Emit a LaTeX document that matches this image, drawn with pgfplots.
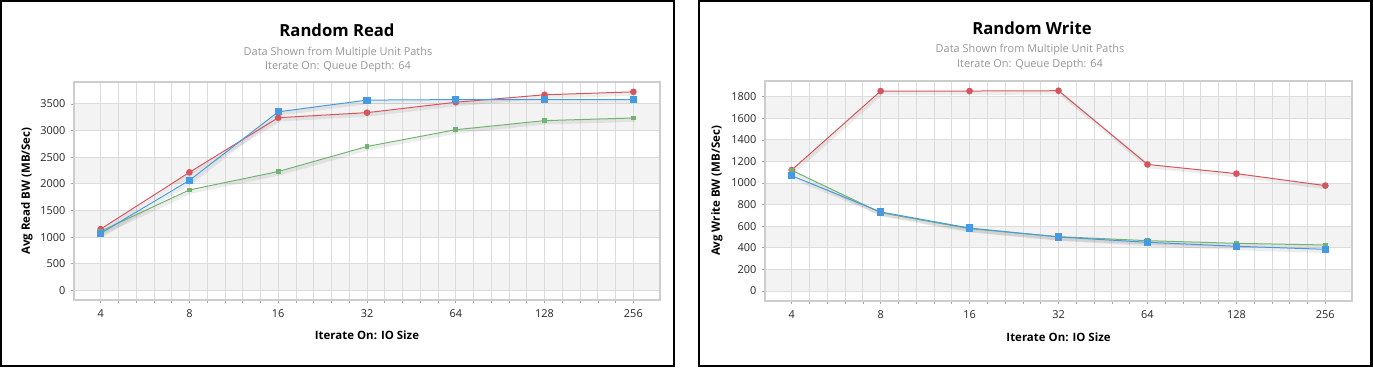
\documentclass[border=0pt]{standalone}
\usepackage{fontspec}
\setmainfont{Open Sans}
\usepackage{pgfplots}
\pgfplotsset{compat=1.18}
\definecolor{cred}{RGB}{214,84,94}
\definecolor{cblue}{RGB}{72,154,224}
\definecolor{cgreen}{RGB}{112,180,112}
\definecolor{cgrid}{RGB}{220,220,220}
\definecolor{cband}{RGB}{243,243,243}
\definecolor{csub}{RGB}{150,150,150}
\definecolor{cframe}{RGB}{205,205,205}
\pgfplotsset{
  panel/.style={
    scale only axis,
    xmin=1.7, xmax=8.3,
    xtick={2,3,4,5,6,7,8},
    xticklabels={4,8,16,32,64,128,256},
    minor x tick num=4,
    xmajorgrids, xminorgrids, ymajorgrids,
    major grid style={cgrid, line width=0.6pt},
    minor grid style={cgrid, line width=0.6pt},
    axis line style={cframe, line width=0.8pt},
    tick pos=left,
    tick align=outside,
    major tick length=2.5pt, minor tick length=2pt,
    tick style={black!35, line width=0.5pt},
    /pgf/number format/assume math mode=true,
    /pgf/number format/1000 sep={},
    ticklabel style={font=\fontsize{8.2}{9}\selectfont, text=black!85},
    xticklabel style={yshift=-1pt},
    yticklabel style={xshift=-0.5pt},
  },
  bgpanel/.style={
    scale only axis, hide axis,
    xmin=1.7, xmax=8.3,
  },
  shad/.style={draw=black, opacity=0.07, line width=2.6pt, no marks, forget plot,
     transform canvas={xshift=1pt, yshift=-1.6pt}},
  redl/.style={cred, line width=0.75pt, mark=*, mark size=2.1pt, mark options={fill=cred, draw=cred}},
  bluel/.style={cblue, line width=0.75pt, mark=square*, mark size=2.3pt, mark options={fill=cblue, draw=cblue}},
  greenl/.style={cgreen, line width=0.75pt, mark=square*, mark size=1.4pt, mark options={fill=cgreen, draw=cgreen}},
}
\begin{document}
\begin{tikzpicture}
\path[use as bounding box] (0,0) rectangle (1029.75pt,-276pt);
% frames
\draw[black, line width=1.6pt] (0.9pt,-0.9pt) rectangle (505.5pt,-274.6pt);
\draw[black, line width=1.6pt] (524.25pt,-0.9pt) rectangle (1028.6pt,-274.6pt);

% ---------- Left: Random Read ----------
\begin{axis}[bgpanel,
  at={(55.5pt,-225pt)}, anchor=south west,
  width=439.5pt, height=163.5pt,
  ymin=-180, ymax=3910,
]
\fill[cband] (axis cs:1.7,0) rectangle (axis cs:8.3,500);
\fill[cband] (axis cs:1.7,1000) rectangle (axis cs:8.3,1500);
\fill[cband] (axis cs:1.7,2000) rectangle (axis cs:8.3,2500);
\fill[cband] (axis cs:1.7,3000) rectangle (axis cs:8.3,3500);
\end{axis}
\begin{axis}[panel,
  at={(55.5pt,-225pt)}, anchor=south west,
  width=439.5pt, height=163.5pt,
  ymin=-180, ymax=3910,
  ytick={0,500,1000,1500,2000,2500,3000,3500},
]
\addplot[shad] coordinates {(2,1150) (3,2215) (4,3240) (5,3335) (6,3530) (7,3670) (8,3725)};
\addplot[shad] coordinates {(2,1110) (3,1885) (4,2230) (5,2700) (6,3015) (7,3185) (8,3235)};
\addplot[shad] coordinates {(2,1070) (3,2065) (4,3350) (5,3570) (6,3580) (7,3580) (8,3580)};
\addplot[redl] coordinates {(2,1150) (3,2215) (4,3240) (5,3335) (6,3530) (7,3670) (8,3725)};
\addplot[greenl] coordinates {(2,1110) (3,1885) (4,2230) (5,2700) (6,3015) (7,3185) (8,3235)};
\addplot[bluel] coordinates {(2,1070) (3,2065) (4,3350) (5,3570) (6,3580) (7,3580) (8,3580)};
\end{axis}

% ---------- Right: Random Write ----------
\begin{axis}[bgpanel,
  at={(573.75pt,-225.75pt)}, anchor=south west,
  width=440.25pt, height=165pt,
  ymin=-93, ymax=1945,
]
\fill[cband] (axis cs:1.7,0) rectangle (axis cs:8.3,200);
\fill[cband] (axis cs:1.7,400) rectangle (axis cs:8.3,600);
\fill[cband] (axis cs:1.7,800) rectangle (axis cs:8.3,1000);
\fill[cband] (axis cs:1.7,1200) rectangle (axis cs:8.3,1400);
\fill[cband] (axis cs:1.7,1600) rectangle (axis cs:8.3,1800);
\end{axis}
\begin{axis}[panel,
  at={(573.75pt,-225.75pt)}, anchor=south west,
  width=440.25pt, height=165pt,
  ymin=-93, ymax=1945,
  ytick={0,200,400,600,800,1000,1200,1400,1600,1800},
]
\addplot[shad] coordinates {(2,1120) (3,1852) (4,1852) (5,1855) (6,1172) (7,1087) (8,976)};
\addplot[shad] coordinates {(2,1118) (3,725) (4,577) (5,503) (6,466) (7,441) (8,426)};
\addplot[shad] coordinates {(2,1068) (3,732) (4,583) (5,500) (6,451) (7,414) (8,386)};
\addplot[redl] coordinates {(2,1120) (3,1852) (4,1852) (5,1855) (6,1172) (7,1087) (8,976)};
\addplot[greenl] coordinates {(2,1118) (3,725) (4,577) (5,503) (6,466) (7,441) (8,426)};
\addplot[bluel] coordinates {(2,1068) (3,732) (4,583) (5,500) (6,451) (7,414) (8,386)};
\end{axis}

% ---------- Titles and labels ----------
\node[anchor=base, font=\fontsize{12.5}{14}\selectfont\bfseries] at (252.75pt,-27pt) {Random Read};
\node[anchor=base, font=\fontsize{8.2}{10}\selectfont, text=csub] at (253.5pt,-41.8pt) {Data Shown from Multiple Unit Paths};
\node[anchor=base, font=\fontsize{8.2}{10}\selectfont, text=csub] at (253.5pt,-51.75pt) {Iterate On: Queue Depth: 64};
\node[anchor=base, font=\fontsize{8.6}{10}\selectfont\bfseries] at (275.25pt,-254.5pt) {Iterate On: IO Size};
\node[rotate=90, anchor=center, font=\fontsize{8.6}{10}\selectfont\bfseries] at (20.25pt,-143.25pt) {Avg Read BW (MB/Sec)};

\node[anchor=base, font=\fontsize{12.5}{14}\selectfont\bfseries] at (774pt,-25.5pt) {Random Write};
\node[anchor=base, font=\fontsize{8.2}{10}\selectfont, text=csub] at (772.5pt,-39.5pt) {Data Shown from Multiple Unit Paths};
\node[anchor=base, font=\fontsize{8.2}{10}\selectfont, text=csub] at (772.5pt,-50.75pt) {Iterate On: Queue Depth: 64};
\node[anchor=base, font=\fontsize{8.6}{10}\selectfont\bfseries] at (793.9pt,-255.75pt) {Iterate On: IO Size};
\node[rotate=90, anchor=center, font=\fontsize{8.6}{10}\selectfont\bfseries] at (537.75pt,-143.25pt) {Avg Write BW (MB/Sec)};
\end{tikzpicture}
\end{document}
